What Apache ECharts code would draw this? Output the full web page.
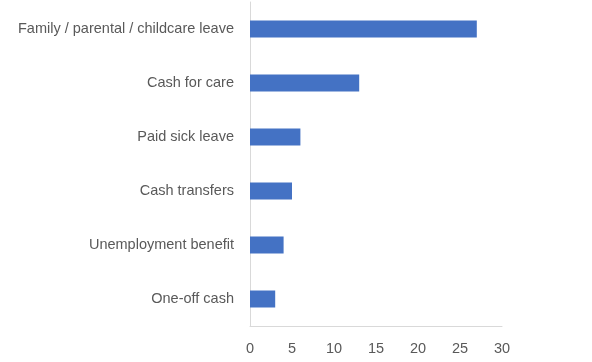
<!DOCTYPE html>
<html><head><meta charset="utf-8">
<script src="https://cdn.jsdelivr.net/npm/echarts@6/dist/echarts.min.js"></script>
<style>html,body{margin:0;padding:0;background:#fff}#c{width:592px;height:362px}</style>
</head><body><div id="c"></div>
<script>
const categories = ["Family / parental / childcare leave","Cash for care","Paid sick leave","Cash transfers","Unemployment benefit","One-off cash"];
const values = [27, 13, 6, 5, 4, 3];
const xTicks = [0, 5, 10, 15, 20, 25, 30];

const chart = echarts.init(document.getElementById('c'), null, {renderer:'canvas'});
chart.setOption({
  animation:false,
  grid:{left:250,right:90,top:2,bottom:36,containLabel:false},
  xAxis:{type:'value',min:xTicks[0],max:xTicks[xTicks.length-1],interval:5,
    axisLine:{show:true,lineStyle:{color:'#d9d9d9',width:1}},
    axisTick:{show:false},splitLine:{show:false},
    axisLabel:{color:'#595959',fontFamily:'Liberation Sans, Arial',fontSize:14.5,margin:15}},
  yAxis:{type:'category',inverse:true,data:categories,
    axisLine:{show:true,lineStyle:{color:'#d9d9d9',width:1}},
    axisTick:{show:false},
    axisLabel:{color:'#595959',fontFamily:'Liberation Sans, Arial',fontSize:14.5,margin:16}},
  series:[{type:'bar',data:values,barWidth:17,itemStyle:{color:'#4472C4'}}]
});
</script></body></html>
